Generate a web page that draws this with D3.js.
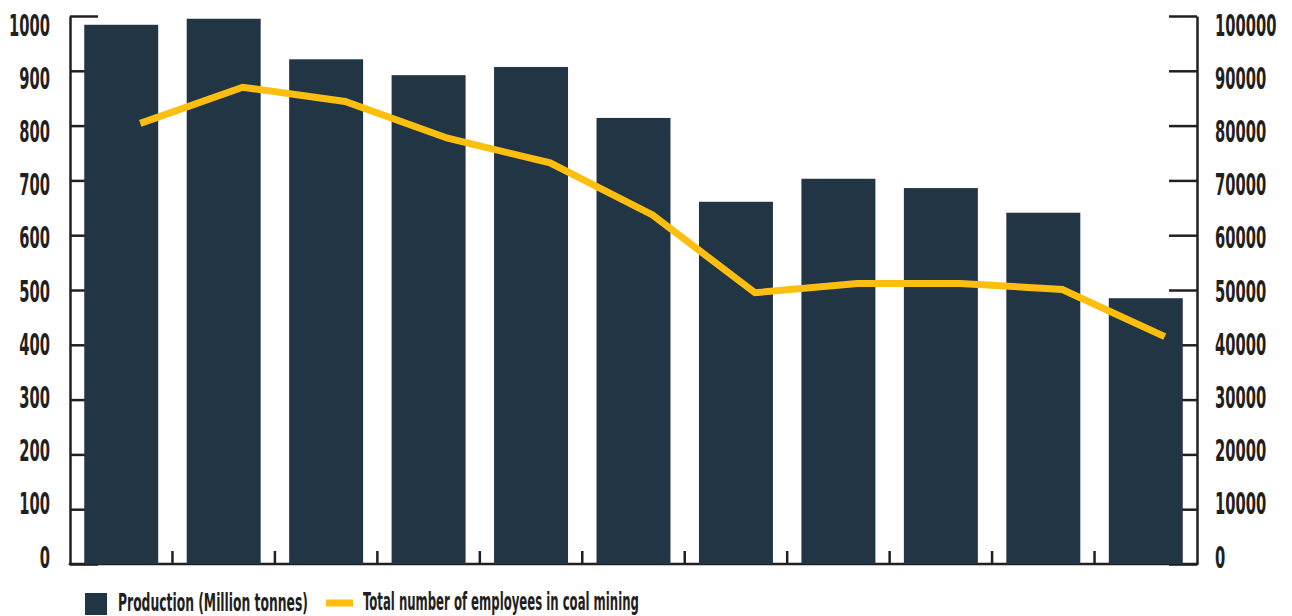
<!DOCTYPE html>
<html>
<head>
<meta charset="utf-8">
<script src="https://cdn.jsdelivr.net/npm/d3@7"></script>
<style>
  html, body { margin: 0; padding: 0; background: #ffffff; }
  svg { display: block; }
  text { font-family: "Liberation Sans Narrow", "DejaVu Sans Condensed", "Liberation Sans", sans-serif; font-weight: bold; fill: #231f20; }
</style>
</head>
<body>
<svg id="chart" width="1292" height="616"></svg>
<script>
// ---- data ----
const categories = ["1", "2", "3", "4", "5", "6", "7", "8", "9", "10", "11"];
const production = [984, 995, 921, 892, 907, 814, 661, 703, 686, 641, 485];
const employees = [80400, 87000, 84400, 77700, 73200, 63700, 49500, 51200, 51200, 50100, 41500];
const leftTicks = [0, 100, 200, 300, 400, 500, 600, 700, 800, 900, 1000];
const rightTicks = [0, 10000, 20000, 30000, 40000, 50000, 60000, 70000, 80000, 90000, 100000];
const seriesNames = ["Production (Million tonnes)", "Total number of employees in coal mining"];

(function () {
// ---- layout ----
const svg = d3.select("#chart");
const pLeft = 70, pRight = 1197, pTop = 16, pBottom = 564;
const barColor = "#213545", lineColor = "#FDBF0F", axisColor = "#231f20";

const x = d3.scaleBand().domain(categories).range([pLeft, pRight]).paddingInner(0.278).paddingOuter(0.139);
const y = d3.scaleLinear().domain([0, 1000]).range([pBottom, pTop]);
const y2 = d3.scaleLinear().domain([0, 100000]).range([pBottom, pTop]);
// label placement scales (labels sit slightly inside the tick range)
const yLab = d3.scaleLinear().domain([0, 1000]).range([557, 25]);
const y2Lab = d3.scaleLinear().domain([0, 100000]).range([557, 25]);
const lineOffset = 19;
const lx = d3.scalePoint().domain(categories)
  .range([x(categories[0]) + x.bandwidth() / 2 + lineOffset, x(categories[categories.length - 1]) + x.bandwidth() / 2 + lineOffset]);

// ---- axes ----
const gL = svg.append("g").attr("transform", `translate(${pLeft},0)`)
  .call(d3.axisLeft(y).tickValues(leftTicks).tickSizeInner(-28).tickSizeOuter(0).tickFormat(""));
const gR = svg.append("g").attr("transform", `translate(${pRight},0)`)
  .call(d3.axisRight(y2).tickValues(rightTicks).tickSizeInner(-28).tickSizeOuter(0).tickFormat(""));
[gL, gR].forEach(g => {
  g.selectAll("path.domain").attr("stroke", axisColor).attr("stroke-width", 2.5);
  g.selectAll(".tick line").attr("stroke", axisColor).attr("stroke-width", 2.5);
});

// bottom axis line + boundary ticks
const step = x.step();
const gap = step - x.bandwidth();
svg.append("line").attr("x1", pLeft - 1.25).attr("x2", pRight + 1.25).attr("y1", pBottom).attr("y2", pBottom)
  .attr("stroke", axisColor).attr("stroke-width", 2.5);
svg.append("g").selectAll("line").data(categories.slice(1)).join("line")
  .attr("x1", d => x(d) - gap / 2).attr("x2", d => x(d) - gap / 2)
  .attr("y1", pBottom - 13).attr("y2", pBottom)
  .attr("stroke", axisColor).attr("stroke-width", 2.5);

// ---- bars ----
svg.append("g").selectAll("rect").data(categories).join("rect")
  .attr("x", d => x(d))
  .attr("y", (d, i) => y(production[i]))
  .attr("width", x.bandwidth())
  .attr("height", (d, i) => y(0) - y(production[i]))
  .attr("fill", barColor);

// ---- line ----
const line = d3.line().x((d, i) => lx(categories[i])).y(d => y2(d));
svg.append("path").datum(employees)
  .attr("d", line)
  .attr("fill", "none")
  .attr("stroke", lineColor)
  .attr("stroke-width", 7)
  .attr("stroke-linejoin", "miter");

// ---- tick labels (condensed via horizontal scale) ----
const axisFont = 31;
const probe = svg.append("text").style("font-size", axisFont + "px").text("1000");
const kAxis = 41 / probe.node().getComputedTextLength();
probe.remove();

svg.append("g").selectAll("g").data(leftTicks).join("g")
  .attr("transform", d => `translate(50,${yLab(d)})`)
  .append("text")
  .attr("transform", `scale(${kAxis},1)`)
  .attr("text-anchor", "end").attr("dominant-baseline", "central")
  .style("font-size", axisFont + "px")
  .text(d => d);
svg.append("g").selectAll("g").data(rightTicks).join("g")
  .attr("transform", d => `translate(1215,${y2Lab(d)})`)
  .append("text")
  .attr("transform", `scale(${kAxis},1)`)
  .attr("text-anchor", "start").attr("dominant-baseline", "central")
  .style("font-size", axisFont + "px")
  .text(d => d);

// ---- legend ----
const legFont = 25;
const lg = svg.append("g");
lg.append("rect").attr("x", 85).attr("y", 593).attr("width", 22).attr("height", 22).attr("fill", barColor);
lg.append("line").attr("x1", 326).attr("x2", 353).attr("y1", 603).attr("y2", 603)
  .attr("stroke", lineColor).attr("stroke-width", 7);
const legItems = [{ x: 118, w: 190, name: seriesNames[0] }, { x: 363, w: 276, name: seriesNames[1] }];
legItems.forEach(it => {
  const t = lg.append("g").attr("transform", `translate(${it.x},602)`)
    .append("text").attr("dominant-baseline", "central")
    .style("font-size", legFont + "px").text(it.name);
  const kk = it.w / t.node().getComputedTextLength();
  t.attr("transform", `scale(${kk},1)`);
});
})();
</script>
</body>
</html>
